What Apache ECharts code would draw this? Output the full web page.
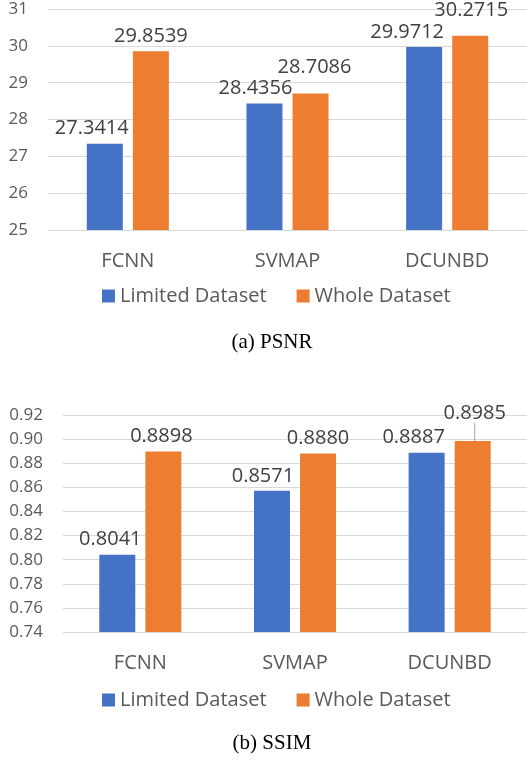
<!DOCTYPE html>
<html>
<head>
<meta charset="utf-8">
<script src="https://cdn.jsdelivr.net/npm/echarts@6/dist/echarts.min.js"></script>
<style>
  html, body { margin: 0; padding: 0; background: #fff; }
  #main { width: 527px; height: 761px; }
</style>
</head>
<body>
<div id="main"></div>
<script>
const methods = ['FCNN', 'SVMAP', 'DCUNBD'];
const seriesNames = ['Limited Dataset', 'Whole Dataset'];
const psnrLimited = [27.3414, 28.4356, 29.9712];
const psnrWhole = [29.8539, 28.7086, 30.2715];
const ssimLimited = [0.8041, 0.8571, 0.8887];
const ssimWhole = [0.8898, 0.8880, 0.8985];

const BLUE = '#4472C4';
const ORANGE = '#ED7D31';
const FONT = '"Open Sans", "Noto Sans", sans-serif';

// small nudges so labels sit where Excel put them ([dx, dy] per bar)
const nudgeTopBlue = [[-13, 0], [-9, 0], [-17, 0]];
const nudgeTopOrange = [[0, 0], [4, -11], [1, -11]];
const nudgeBottomBlue = [[-7, 0], [-9, 0], [-13, 0]];
const nudgeBottomOrange = [[-2, 0], [0, 0], [2, -13]];

function barSeries(name, color, values, axis, nudges, leaderIndex) {
    return {
        name: name,
        type: 'bar',
        xAxisIndex: axis,
        yAxisIndex: axis,
        barWidth: 36,
        barGap: '28%',
        itemStyle: { color: color },
        data: values.map((v, i) => ({
            value: v,
            labelLine: { show: i === leaderIndex }
        })),
        label: {
            show: true,
            position: 'top',
            distance: 5,
            color: '#404040',
            fontFamily: FONT,
            fontSize: 20,
            formatter: p => p.value.toFixed(4)
        },
        labelLine: { show: false, lineStyle: { color: '#a6a6a6', width: 1 } },
        labelLayout: function (p) {
            const n = nudges[p.dataIndex];
            return { dx: n[0], dy: n[1] };
        }
    };
}

const axisLabelStyle = { color: '#595959', fontFamily: FONT, fontSize: 17 };

let myChart = echarts.init(document.getElementById('main'));

option = {
    animation: false,
    backgroundColor: '#fff',
    grid: [
        { left: 48, right: 0, top: 9, height: 221 },
        { left: 63, right: 0, top: 415, height: 217 }
    ],
    xAxis: [0, 1].map(i => ({
        type: 'category',
        gridIndex: i,
        data: methods,
        axisLine: { show: false },
        axisTick: { show: false },
        axisLabel: { color: '#595959', fontFamily: FONT, fontSize: 20, margin: 21 }
    })),
    yAxis: [
        {
            type: 'value', gridIndex: 0, min: 25, max: 31, interval: 1,
            axisLabel: Object.assign({ margin: 20 }, axisLabelStyle),
            splitLine: { lineStyle: { color: '#d9d9d9', width: 1 } }
        },
        {
            type: 'value', gridIndex: 1, min: 0.74, max: 0.92, interval: 0.02,
            axisLabel: Object.assign({ margin: 20, formatter: v => v.toFixed(2) }, axisLabelStyle),
            splitLine: { lineStyle: { color: '#d9d9d9', width: 1 } }
        }
    ],
    legend: [
        { top: 281, left: 97, itemWidth: 13, itemHeight: 13, itemGap: 30 },
        { top: 685, left: 97, itemWidth: 13, itemHeight: 13, itemGap: 30 }
    ].map(l => Object.assign(l, {
        data: seriesNames,
        icon: 'rect',
        selectedMode: false,
        textStyle: { color: '#595959', fontFamily: FONT, fontSize: 20, padding: [0, 0, 0, 0] }
    })),
    title: [
        { text: '(a) PSNR', left: 272, top: 332 },
        { text: '(b) SSIM', left: 272, top: 733 }
    ].map(t => Object.assign(t, {
        textAlign: 'center',
        padding: 0,
        textStyle: { color: '#000', fontFamily: '"Liberation Serif", "Times New Roman", serif', fontSize: 21, fontWeight: 'normal' }
    })),
    series: [
        barSeries(seriesNames[0], BLUE, psnrLimited, 0, nudgeTopBlue, -1),
        barSeries(seriesNames[1], ORANGE, psnrWhole, 0, nudgeTopOrange, -1),
        barSeries(seriesNames[0], BLUE, ssimLimited, 1, nudgeBottomBlue, -1),
        barSeries(seriesNames[1], ORANGE, ssimWhole, 1, nudgeBottomOrange, 2)
    ]
};

myChart.setOption(option);
</script>
</body>
</html>
